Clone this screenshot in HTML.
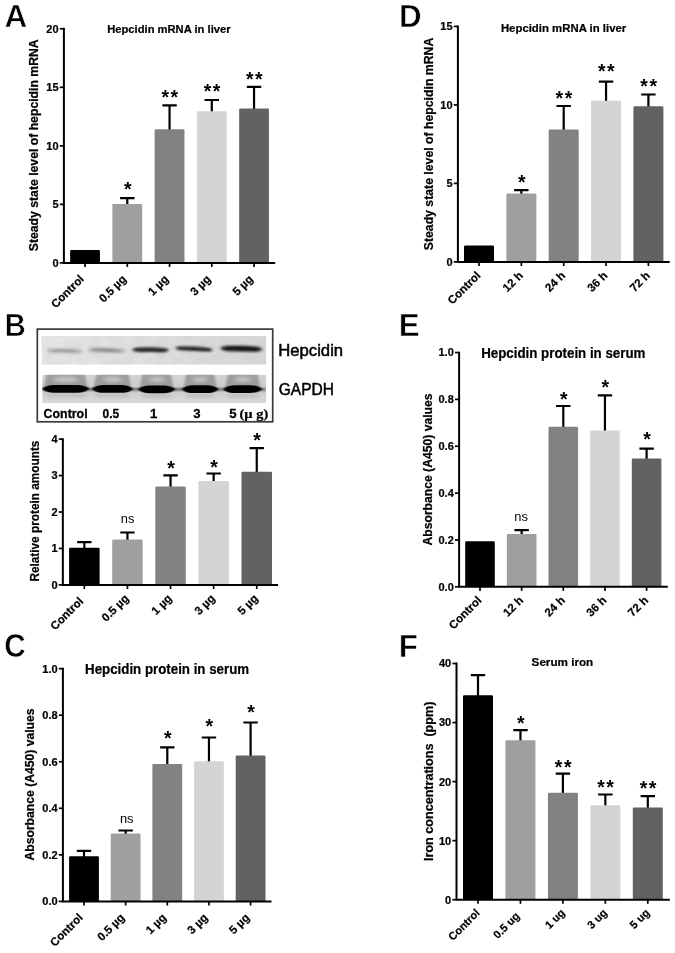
<!DOCTYPE html>
<html lang="en"><head><meta charset="utf-8"><title>Figure</title>
<style>html,body{margin:0;padding:0;background:#fff}svg{display:block}</style></head>
<body>
<svg width="675" height="953" viewBox="0 0 675 953" font-family="'Liberation Sans', sans-serif" fill="#000">
<defs>
<filter id="b1" x="-20%" y="-300%" width="140%" height="700%"><feGaussianBlur stdDeviation="1.8 1.2"/></filter>
<filter id="b4" x="-20%" y="-300%" width="140%" height="700%"><feGaussianBlur stdDeviation="2.2 1.6"/></filter>
<filter id="b2" x="-20%" y="-200%" width="140%" height="500%"><feGaussianBlur stdDeviation="1.3 0.9"/></filter>
<filter id="b5" x="-30%" y="-100%" width="160%" height="300%"><feGaussianBlur stdDeviation="1.3 1.2"/></filter>
<filter id="b6" x="-20%" y="-200%" width="140%" height="500%"><feGaussianBlur stdDeviation="0.9 0.7"/></filter>
<filter id="b3" x="-30%" y="-100%" width="160%" height="300%"><feGaussianBlur stdDeviation="2 1.6"/></filter>
<filter id="nz" x="0" y="0" width="100%" height="100%"><feTurbulence type="fractalNoise" baseFrequency="0.09 0.12" numOctaves="2" seed="7" result="t"/><feColorMatrix in="t" type="matrix" values="0 0 0 0 0.5  0 0 0 0 0.5  0 0 0 0 0.5  0.9 0 0 0 -0.33"/></filter>
<linearGradient id="g1" x1="0" y1="0" x2="1" y2="0"><stop offset="0" stop-color="#e6e6e6"/><stop offset="0.45" stop-color="#dfdfdf"/><stop offset="1" stop-color="#d6d6d6"/></linearGradient>
<linearGradient id="g2" x1="0" y1="0" x2="0" y2="1"><stop offset="0" stop-color="#d2d2d2"/><stop offset="0.55" stop-color="#cdcdcd"/><stop offset="1" stop-color="#dadada"/></linearGradient>
<clipPath id="c1"><rect x="41.3" y="336" width="224.7" height="28.7"/></clipPath>
<clipPath id="c2"><rect x="42.2" y="374.8" width="223.8" height="28.2"/></clipPath>
</defs>
<rect width="675" height="953" fill="#fff"/>
<rect x="70.15" y="249.9" width="29.8" height="13.00" rx="1.2" fill="#000000"/>
<path d="M127.30 205V198.1M120.10 198.1H134.50" stroke="#000" stroke-width="2.2" fill="none"/>
<rect x="112.40" y="204" width="29.8" height="58.90" rx="1.2" fill="#9f9f9f"/>
<path d="M169.55 130.3V105.3M162.35 105.3H176.75" stroke="#000" stroke-width="2.2" fill="none"/>
<rect x="154.65" y="129.3" width="29.8" height="133.60" rx="1.2" fill="#828282"/>
<path d="M211.80 112.2V100M204.60 100H219.00" stroke="#000" stroke-width="2.2" fill="none"/>
<rect x="196.90" y="111.2" width="29.8" height="151.70" rx="1.2" fill="#d4d4d4"/>
<path d="M254.05 109.5V86.9M246.85 86.9H261.25" stroke="#000" stroke-width="2.2" fill="none"/>
<rect x="239.15" y="108.5" width="29.8" height="154.40" rx="1.2" fill="#626262"/>
<path d="M63.9 27.8V262.9H275.2" stroke="#000" stroke-width="2.0" fill="none" stroke-linejoin="miter"/>
<path d="M59.80 262.9H63.9" stroke="#000" stroke-width="1.7"/>
<text x="58.6" y="266.8" font-size="11" text-anchor="end" font-weight="bold" stroke="#000" stroke-width="0.22">0</text>
<path d="M59.80 204.37H63.9" stroke="#000" stroke-width="1.7"/>
<text x="58.6" y="208.27" font-size="11" text-anchor="end" font-weight="bold" stroke="#000" stroke-width="0.22">5</text>
<path d="M59.80 145.84H63.9" stroke="#000" stroke-width="1.7"/>
<text x="58.6" y="149.74" font-size="11" text-anchor="end" font-weight="bold" stroke="#000" stroke-width="0.22">10</text>
<path d="M59.80 87.31H63.9" stroke="#000" stroke-width="1.7"/>
<text x="58.6" y="91.21" font-size="11" text-anchor="end" font-weight="bold" stroke="#000" stroke-width="0.22">15</text>
<path d="M59.80 28.78H63.9" stroke="#000" stroke-width="1.7"/>
<text x="58.6" y="32.68" font-size="11" text-anchor="end" font-weight="bold" stroke="#000" stroke-width="0.22">20</text>
<path d="M85.05 262.9V267.00" stroke="#000" stroke-width="1.7"/>
<text x="84.65" y="279.8" font-size="11.5" text-anchor="end" font-weight="bold" transform="rotate(-45 84.65 279.8)" stroke="#000" stroke-width="0.22">Control</text>
<path d="M127.30 262.9V267.00" stroke="#000" stroke-width="1.7"/>
<text x="126.9" y="279.8" font-size="11.5" text-anchor="end" font-weight="bold" transform="rotate(-45 126.9 279.8)" stroke="#000" stroke-width="0.22">0.5 µg</text>
<path d="M169.55 262.9V267.00" stroke="#000" stroke-width="1.7"/>
<text x="169.15" y="279.8" font-size="11.5" text-anchor="end" font-weight="bold" transform="rotate(-45 169.15 279.8)" stroke="#000" stroke-width="0.22">1 µg</text>
<path d="M211.80 262.9V267.00" stroke="#000" stroke-width="1.7"/>
<text x="211.4" y="279.8" font-size="11.5" text-anchor="end" font-weight="bold" transform="rotate(-45 211.4 279.8)" stroke="#000" stroke-width="0.22">3 µg</text>
<path d="M254.05 262.9V267.00" stroke="#000" stroke-width="1.7"/>
<text x="253.65" y="279.8" font-size="11.5" text-anchor="end" font-weight="bold" transform="rotate(-45 253.65 279.8)" stroke="#000" stroke-width="0.22">5 µg</text>
<text x="38.0" y="145.3" font-size="12.2" text-anchor="middle" font-weight="bold" textLength="211.8" lengthAdjust="spacingAndGlyphs" transform="rotate(-90 38.0 145.3)" style="white-space:pre" stroke="#000" stroke-width="0.22">Steady state level of hepcidin mRNA</text>
<text x="168.9" y="32.8" font-size="11.3" text-anchor="middle" font-weight="bold" textLength="123.4" lengthAdjust="spacingAndGlyphs" stroke="#000" stroke-width="0.22">Hepcidin mRNA in liver</text>
<text x="127.7" y="196.3" font-size="19.5" text-anchor="middle" font-weight="bold">*</text>
<text x="170.55" y="103.8" font-size="19.5" text-anchor="middle" font-weight="bold" letter-spacing="1.5">**</text>
<text x="212.8" y="98.4" font-size="19.5" text-anchor="middle" font-weight="bold" letter-spacing="1.5">**</text>
<text x="255.05" y="85.7" font-size="19.5" text-anchor="middle" font-weight="bold" letter-spacing="1.5">**</text>
<text x="4.4" y="26.8" font-size="31.5" text-anchor="start" font-weight="bold" stroke="#fff" stroke-width="0.6">A</text>
<path d="M84.35 548.8V542.2M77.15 542.2H91.55" stroke="#000" stroke-width="2.2" fill="none"/>
<rect x="69.10" y="547.8" width="30.5" height="37.10" rx="1.2" fill="#000000"/>
<path d="M127.45 540.5V532.5M120.25 532.5H134.65" stroke="#000" stroke-width="2.2" fill="none"/>
<rect x="112.20" y="539.5" width="30.5" height="45.40" rx="1.2" fill="#9f9f9f"/>
<path d="M170.55 487.6V475.4M163.35 475.4H177.75" stroke="#000" stroke-width="2.2" fill="none"/>
<rect x="155.30" y="486.6" width="30.5" height="98.30" rx="1.2" fill="#828282"/>
<path d="M213.65 482V473.5M206.45 473.5H220.85" stroke="#000" stroke-width="2.2" fill="none"/>
<rect x="198.40" y="481" width="30.5" height="103.90" rx="1.2" fill="#d4d4d4"/>
<path d="M256.75 472.7V448.2M249.55 448.2H263.95" stroke="#000" stroke-width="2.2" fill="none"/>
<rect x="241.50" y="471.7" width="30.5" height="113.20" rx="1.2" fill="#626262"/>
<path d="M62.85 438.20000000000005V584.9H278.1" stroke="#000" stroke-width="2.0" fill="none" stroke-linejoin="miter"/>
<path d="M58.75 584.9H62.85" stroke="#000" stroke-width="1.7"/>
<text x="57.55" y="588.8" font-size="11" text-anchor="end" font-weight="bold" stroke="#000" stroke-width="0.22">0</text>
<path d="M58.75 548.45H62.85" stroke="#000" stroke-width="1.7"/>
<text x="57.55" y="552.35" font-size="11" text-anchor="end" font-weight="bold" stroke="#000" stroke-width="0.22">1</text>
<path d="M58.75 512.0H62.85" stroke="#000" stroke-width="1.7"/>
<text x="57.55" y="515.9" font-size="11" text-anchor="end" font-weight="bold" stroke="#000" stroke-width="0.22">2</text>
<path d="M58.75 475.55H62.85" stroke="#000" stroke-width="1.7"/>
<text x="57.55" y="479.45" font-size="11" text-anchor="end" font-weight="bold" stroke="#000" stroke-width="0.22">3</text>
<path d="M58.75 439.1H62.85" stroke="#000" stroke-width="1.7"/>
<text x="57.55" y="443.0" font-size="11" text-anchor="end" font-weight="bold" stroke="#000" stroke-width="0.22">4</text>
<path d="M84.35 584.9V589.00" stroke="#000" stroke-width="1.7"/>
<text x="83.95" y="601.9" font-size="11.5" text-anchor="end" font-weight="bold" transform="rotate(-45 83.95 601.9)" stroke="#000" stroke-width="0.22">Control</text>
<path d="M127.45 584.9V589.00" stroke="#000" stroke-width="1.7"/>
<text x="129.45" y="599.1" font-size="11.5" text-anchor="end" font-weight="bold" transform="rotate(-45 129.45 599.1)" stroke="#000" stroke-width="0.22">0.5 µg</text>
<path d="M170.55 584.9V589.00" stroke="#000" stroke-width="1.7"/>
<text x="172.55" y="599.1" font-size="11.5" text-anchor="end" font-weight="bold" transform="rotate(-45 172.55 599.1)" stroke="#000" stroke-width="0.22">1 µg</text>
<path d="M213.65 584.9V589.00" stroke="#000" stroke-width="1.7"/>
<text x="215.65" y="599.1" font-size="11.5" text-anchor="end" font-weight="bold" transform="rotate(-45 215.65 599.1)" stroke="#000" stroke-width="0.22">3 µg</text>
<path d="M256.75 584.9V589.00" stroke="#000" stroke-width="1.7"/>
<text x="258.75" y="599.1" font-size="11.5" text-anchor="end" font-weight="bold" transform="rotate(-45 258.75 599.1)" stroke="#000" stroke-width="0.22">5 µg</text>
<text x="38.6" y="511.1" font-size="12" text-anchor="middle" font-weight="bold" textLength="141" lengthAdjust="spacingAndGlyphs" transform="rotate(-90 38.6 511.1)" style="white-space:pre" stroke="#000" stroke-width="0.22">Relative protein amounts</text>
<text x="127.65" y="523.1" font-size="12.2" text-anchor="middle" font-weight="normal" textLength="13.6" lengthAdjust="spacingAndGlyphs">ns</text>
<text x="170.95000000000002" y="475.4" font-size="19.5" text-anchor="middle" font-weight="bold">*</text>
<text x="214.05" y="473.5" font-size="19.5" text-anchor="middle" font-weight="bold">*</text>
<text x="257.15" y="447.4" font-size="19.5" text-anchor="middle" font-weight="bold">*</text>
<text x="4.8" y="336.1" font-size="31.4" text-anchor="start" font-weight="bold" textLength="21" lengthAdjust="spacingAndGlyphs" stroke="#fff" stroke-width="0.6">B</text>
<path d="M84.00 857.3V850.8M76.80 850.8H91.20" stroke="#000" stroke-width="2.2" fill="none"/>
<rect x="69.10" y="856.3" width="29.8" height="45.10" rx="1.2" fill="#000000"/>
<path d="M125.65 834.5V830.5M118.45 830.5H132.85" stroke="#000" stroke-width="2.2" fill="none"/>
<rect x="110.75" y="833.5" width="29.8" height="67.90" rx="1.2" fill="#9f9f9f"/>
<path d="M167.30 765.1V747.3M160.10 747.3H174.50" stroke="#000" stroke-width="2.2" fill="none"/>
<rect x="152.40" y="764.1" width="29.8" height="137.30" rx="1.2" fill="#828282"/>
<path d="M208.95 762.2V737.5M201.75 737.5H216.15" stroke="#000" stroke-width="2.2" fill="none"/>
<rect x="194.05" y="761.2" width="29.8" height="140.20" rx="1.2" fill="#d4d4d4"/>
<path d="M250.60 756.6V722.5M243.40 722.5H257.80" stroke="#000" stroke-width="2.2" fill="none"/>
<rect x="235.70" y="755.6" width="29.8" height="145.80" rx="1.2" fill="#626262"/>
<path d="M62.9 667.8000000000001V901.4H271.5" stroke="#000" stroke-width="2.0" fill="none" stroke-linejoin="miter"/>
<path d="M58.80 901.4H62.9" stroke="#000" stroke-width="1.7"/>
<text x="57.6" y="905.3" font-size="11" text-anchor="end" font-weight="bold" stroke="#000" stroke-width="0.22">0.0</text>
<path d="M58.80 854.85H62.9" stroke="#000" stroke-width="1.7"/>
<text x="57.6" y="858.75" font-size="11" text-anchor="end" font-weight="bold" stroke="#000" stroke-width="0.22">0.2</text>
<path d="M58.80 808.3H62.9" stroke="#000" stroke-width="1.7"/>
<text x="57.6" y="812.2" font-size="11" text-anchor="end" font-weight="bold" stroke="#000" stroke-width="0.22">0.4</text>
<path d="M58.80 761.75H62.9" stroke="#000" stroke-width="1.7"/>
<text x="57.6" y="765.65" font-size="11" text-anchor="end" font-weight="bold" stroke="#000" stroke-width="0.22">0.6</text>
<path d="M58.80 715.2H62.9" stroke="#000" stroke-width="1.7"/>
<text x="57.6" y="719.1" font-size="11" text-anchor="end" font-weight="bold" stroke="#000" stroke-width="0.22">0.8</text>
<path d="M58.80 668.65H62.9" stroke="#000" stroke-width="1.7"/>
<text x="57.6" y="672.55" font-size="11" text-anchor="end" font-weight="bold" stroke="#000" stroke-width="0.22">1.0</text>
<path d="M84.00 901.4V905.50" stroke="#000" stroke-width="1.7"/>
<text x="83.6" y="918.3" font-size="11.5" text-anchor="end" font-weight="bold" transform="rotate(-45 83.6 918.3)" stroke="#000" stroke-width="0.22">Control</text>
<path d="M125.65 901.4V905.50" stroke="#000" stroke-width="1.7"/>
<text x="125.25" y="918.3" font-size="11.5" text-anchor="end" font-weight="bold" transform="rotate(-45 125.25 918.3)" stroke="#000" stroke-width="0.22">0.5 µg</text>
<path d="M167.30 901.4V905.50" stroke="#000" stroke-width="1.7"/>
<text x="166.9" y="918.3" font-size="11.5" text-anchor="end" font-weight="bold" transform="rotate(-45 166.9 918.3)" stroke="#000" stroke-width="0.22">1 µg</text>
<path d="M208.95 901.4V905.50" stroke="#000" stroke-width="1.7"/>
<text x="208.55" y="918.3" font-size="11.5" text-anchor="end" font-weight="bold" transform="rotate(-45 208.55 918.3)" stroke="#000" stroke-width="0.22">3 µg</text>
<path d="M250.60 901.4V905.50" stroke="#000" stroke-width="1.7"/>
<text x="250.2" y="918.3" font-size="11.5" text-anchor="end" font-weight="bold" transform="rotate(-45 250.2 918.3)" stroke="#000" stroke-width="0.22">5 µg</text>
<text x="33.9" y="784.5" font-size="12" text-anchor="middle" font-weight="bold" textLength="152" lengthAdjust="spacingAndGlyphs" transform="rotate(-90 33.9 784.5)" style="white-space:pre" stroke="#000" stroke-width="0.22">Absorbance (A450) values</text>
<text x="167.1" y="673.6" font-size="13.8" text-anchor="middle" font-weight="bold" textLength="164" lengthAdjust="spacingAndGlyphs" stroke="#000" stroke-width="0.22">Hepcidin protein in serum</text>
<text x="126.75" y="822.5" font-size="12.2" text-anchor="middle" font-weight="normal" textLength="13.6" lengthAdjust="spacingAndGlyphs">ns</text>
<text x="167.70000000000002" y="745.2" font-size="19.5" text-anchor="middle" font-weight="bold">*</text>
<text x="209.35" y="733.2" font-size="19.5" text-anchor="middle" font-weight="bold">*</text>
<text x="251.0" y="718.8" font-size="19.5" text-anchor="middle" font-weight="bold">*</text>
<text x="4.2" y="657.0" font-size="33.8" text-anchor="start" font-weight="bold" textLength="21.5" lengthAdjust="spacingAndGlyphs" stroke="#fff" stroke-width="0.6">C</text>
<rect x="464.00" y="245.6" width="30" height="16.30" rx="1.2" fill="#000000"/>
<path d="M521.35 194.5V190.1M514.15 190.1H528.55" stroke="#000" stroke-width="2.2" fill="none"/>
<rect x="506.35" y="193.5" width="30" height="68.40" rx="1.2" fill="#9f9f9f"/>
<path d="M563.70 130.5V106M556.50 106H570.90" stroke="#000" stroke-width="2.2" fill="none"/>
<rect x="548.70" y="129.5" width="30" height="132.40" rx="1.2" fill="#828282"/>
<path d="M606.05 101.7V81.7M598.85 81.7H613.25" stroke="#000" stroke-width="2.2" fill="none"/>
<rect x="591.05" y="100.7" width="30" height="161.20" rx="1.2" fill="#d4d4d4"/>
<path d="M648.40 107.3V94.5M641.20 94.5H655.60" stroke="#000" stroke-width="2.2" fill="none"/>
<rect x="633.40" y="106.3" width="30" height="155.60" rx="1.2" fill="#626262"/>
<path d="M457.9 25.5V261.9H669.7" stroke="#000" stroke-width="2.0" fill="none" stroke-linejoin="miter"/>
<path d="M453.80 261.9H457.9" stroke="#000" stroke-width="1.7"/>
<text x="452.6" y="265.8" font-size="11" text-anchor="end" font-weight="bold" stroke="#000" stroke-width="0.22">0</text>
<path d="M453.80 183.4H457.9" stroke="#000" stroke-width="1.7"/>
<text x="452.6" y="187.3" font-size="11" text-anchor="end" font-weight="bold" stroke="#000" stroke-width="0.22">5</text>
<path d="M453.80 104.9H457.9" stroke="#000" stroke-width="1.7"/>
<text x="452.6" y="108.8" font-size="11" text-anchor="end" font-weight="bold" stroke="#000" stroke-width="0.22">10</text>
<path d="M453.80 26.4H457.9" stroke="#000" stroke-width="1.7"/>
<text x="452.6" y="30.3" font-size="11" text-anchor="end" font-weight="bold" stroke="#000" stroke-width="0.22">15</text>
<path d="M479.00 261.9V266.00" stroke="#000" stroke-width="1.7"/>
<text x="481.3" y="276.2" font-size="11.5" text-anchor="end" font-weight="bold" transform="rotate(-45 481.3 276.2)" stroke="#000" stroke-width="0.22">Control</text>
<path d="M521.35 261.9V266.00" stroke="#000" stroke-width="1.7"/>
<text x="523.65" y="276.2" font-size="11.5" text-anchor="end" font-weight="bold" transform="rotate(-45 523.65 276.2)" stroke="#000" stroke-width="0.22">12 h</text>
<path d="M563.70 261.9V266.00" stroke="#000" stroke-width="1.7"/>
<text x="566.0" y="276.2" font-size="11.5" text-anchor="end" font-weight="bold" transform="rotate(-45 566.0 276.2)" stroke="#000" stroke-width="0.22">24 h</text>
<path d="M606.05 261.9V266.00" stroke="#000" stroke-width="1.7"/>
<text x="608.35" y="276.2" font-size="11.5" text-anchor="end" font-weight="bold" transform="rotate(-45 608.35 276.2)" stroke="#000" stroke-width="0.22">36 h</text>
<path d="M648.40 261.9V266.00" stroke="#000" stroke-width="1.7"/>
<text x="650.7" y="276.2" font-size="11.5" text-anchor="end" font-weight="bold" transform="rotate(-45 650.7 276.2)" stroke="#000" stroke-width="0.22">72 h</text>
<text x="433" y="144" font-size="12.2" text-anchor="middle" font-weight="bold" textLength="212.5" lengthAdjust="spacingAndGlyphs" transform="rotate(-90 433 144)" style="white-space:pre" stroke="#000" stroke-width="0.22">Steady state level of hepcidin mRNA</text>
<text x="563.6" y="31.8" font-size="11.5" text-anchor="middle" font-weight="bold" textLength="125.4" lengthAdjust="spacingAndGlyphs" stroke="#000" stroke-width="0.22">Hepcidin mRNA in liver</text>
<text x="521.75" y="188.6" font-size="19.5" text-anchor="middle" font-weight="bold">*</text>
<text x="564.7" y="104.5" font-size="19.5" text-anchor="middle" font-weight="bold" letter-spacing="1.5">**</text>
<text x="607.05" y="78.4" font-size="19.5" text-anchor="middle" font-weight="bold" letter-spacing="1.5">**</text>
<text x="649.4" y="93.1" font-size="19.5" text-anchor="middle" font-weight="bold" letter-spacing="1.5">**</text>
<text x="399.1" y="26.7" font-size="31.4" text-anchor="start" font-weight="bold" stroke="#fff" stroke-width="0.6">D</text>
<rect x="465.20" y="541.2" width="29.6" height="45.60" rx="1.2" fill="#000000"/>
<path d="M521.65 535V530.2M514.45 530.2H528.85" stroke="#000" stroke-width="2.2" fill="none"/>
<rect x="506.85" y="534" width="29.6" height="52.80" rx="1.2" fill="#9f9f9f"/>
<path d="M563.30 427.8V406M556.10 406H570.50" stroke="#000" stroke-width="2.2" fill="none"/>
<rect x="548.50" y="426.8" width="29.6" height="160.00" rx="1.2" fill="#828282"/>
<path d="M604.95 431.5V395.3M597.75 395.3H612.15" stroke="#000" stroke-width="2.2" fill="none"/>
<rect x="590.15" y="430.5" width="29.6" height="156.30" rx="1.2" fill="#d4d4d4"/>
<path d="M646.60 459.5V448.7M639.40 448.7H653.80" stroke="#000" stroke-width="2.2" fill="none"/>
<rect x="631.80" y="458.5" width="29.6" height="128.30" rx="1.2" fill="#626262"/>
<path d="M459.1 351.65000000000003V586.8H667.8" stroke="#000" stroke-width="2.0" fill="none" stroke-linejoin="miter"/>
<path d="M455.00 586.8H459.1" stroke="#000" stroke-width="1.7"/>
<text x="453.8" y="590.7" font-size="11" text-anchor="end" font-weight="bold" stroke="#000" stroke-width="0.22">0.0</text>
<path d="M455.00 539.95H459.1" stroke="#000" stroke-width="1.7"/>
<text x="453.8" y="543.85" font-size="11" text-anchor="end" font-weight="bold" stroke="#000" stroke-width="0.22">0.2</text>
<path d="M455.00 493.1H459.1" stroke="#000" stroke-width="1.7"/>
<text x="453.8" y="497.0" font-size="11" text-anchor="end" font-weight="bold" stroke="#000" stroke-width="0.22">0.4</text>
<path d="M455.00 446.25H459.1" stroke="#000" stroke-width="1.7"/>
<text x="453.8" y="450.15" font-size="11" text-anchor="end" font-weight="bold" stroke="#000" stroke-width="0.22">0.6</text>
<path d="M455.00 399.4H459.1" stroke="#000" stroke-width="1.7"/>
<text x="453.8" y="403.3" font-size="11" text-anchor="end" font-weight="bold" stroke="#000" stroke-width="0.22">0.8</text>
<path d="M455.00 352.55H459.1" stroke="#000" stroke-width="1.7"/>
<text x="453.8" y="356.45" font-size="11" text-anchor="end" font-weight="bold" stroke="#000" stroke-width="0.22">1.0</text>
<path d="M480.00 586.8V590.90" stroke="#000" stroke-width="1.7"/>
<text x="482.3" y="601.0" font-size="11.5" text-anchor="end" font-weight="bold" transform="rotate(-45 482.3 601.0)" stroke="#000" stroke-width="0.22">Control</text>
<path d="M521.65 586.8V590.90" stroke="#000" stroke-width="1.7"/>
<text x="523.95" y="601.0" font-size="11.5" text-anchor="end" font-weight="bold" transform="rotate(-45 523.95 601.0)" stroke="#000" stroke-width="0.22">12 h</text>
<path d="M563.30 586.8V590.90" stroke="#000" stroke-width="1.7"/>
<text x="565.6" y="601.0" font-size="11.5" text-anchor="end" font-weight="bold" transform="rotate(-45 565.6 601.0)" stroke="#000" stroke-width="0.22">24 h</text>
<path d="M604.95 586.8V590.90" stroke="#000" stroke-width="1.7"/>
<text x="607.25" y="601.0" font-size="11.5" text-anchor="end" font-weight="bold" transform="rotate(-45 607.25 601.0)" stroke="#000" stroke-width="0.22">36 h</text>
<path d="M646.60 586.8V590.90" stroke="#000" stroke-width="1.7"/>
<text x="648.9" y="601.0" font-size="11.5" text-anchor="end" font-weight="bold" transform="rotate(-45 648.9 601.0)" stroke="#000" stroke-width="0.22">72 h</text>
<text x="432.4" y="469.5" font-size="12" text-anchor="middle" font-weight="bold" textLength="152" lengthAdjust="spacingAndGlyphs" transform="rotate(-90 432.4 469.5)" style="white-space:pre" stroke="#000" stroke-width="0.22">Absorbance (A450) values</text>
<text x="563.3" y="357.8" font-size="13.8" text-anchor="middle" font-weight="bold" textLength="164.3" lengthAdjust="spacingAndGlyphs" stroke="#000" stroke-width="0.22">Hepcidin protein in serum</text>
<text x="521.1500000000001" y="521.1" font-size="12.2" text-anchor="middle" font-weight="normal" textLength="13.6" lengthAdjust="spacingAndGlyphs">ns</text>
<text x="563.6999999999999" y="405.6" font-size="19.5" text-anchor="middle" font-weight="bold">*</text>
<text x="605.35" y="393.7" font-size="19.5" text-anchor="middle" font-weight="bold">*</text>
<text x="647.0" y="446.3" font-size="19.5" text-anchor="middle" font-weight="bold">*</text>
<text x="398.8" y="336.1" font-size="31.4" text-anchor="start" font-weight="bold" stroke="#fff" stroke-width="0.6">E</text>
<path d="M478.00 696.3V675.1M470.80 675.1H485.20" stroke="#000" stroke-width="2.2" fill="none"/>
<rect x="463.00" y="695.3" width="30" height="204.40" rx="1.2" fill="#000000"/>
<path d="M520.45 741.2V730.1M513.25 730.1H527.65" stroke="#000" stroke-width="2.2" fill="none"/>
<rect x="505.45" y="740.2" width="30" height="159.50" rx="1.2" fill="#9f9f9f"/>
<path d="M562.90 793.8V773.6M555.70 773.6H570.10" stroke="#000" stroke-width="2.2" fill="none"/>
<rect x="547.90" y="792.8" width="30" height="106.90" rx="1.2" fill="#828282"/>
<path d="M605.35 806.3V794.5M598.15 794.5H612.55" stroke="#000" stroke-width="2.2" fill="none"/>
<rect x="590.35" y="805.3" width="30" height="94.40" rx="1.2" fill="#d4d4d4"/>
<path d="M647.80 808.4V796.2M640.60 796.2H655.00" stroke="#000" stroke-width="2.2" fill="none"/>
<rect x="632.80" y="807.4" width="30" height="92.30" rx="1.2" fill="#626262"/>
<path d="M456.5 662.6V899.7H669.8" stroke="#000" stroke-width="2.0" fill="none" stroke-linejoin="miter"/>
<path d="M452.40 899.7H456.5" stroke="#000" stroke-width="1.7"/>
<text x="451.2" y="903.6" font-size="11" text-anchor="end" font-weight="bold" stroke="#000" stroke-width="0.22">0</text>
<path d="M452.40 840.65H456.5" stroke="#000" stroke-width="1.7"/>
<text x="451.2" y="844.55" font-size="11" text-anchor="end" font-weight="bold" stroke="#000" stroke-width="0.22">10</text>
<path d="M452.40 781.6H456.5" stroke="#000" stroke-width="1.7"/>
<text x="451.2" y="785.5" font-size="11" text-anchor="end" font-weight="bold" stroke="#000" stroke-width="0.22">20</text>
<path d="M452.40 722.55H456.5" stroke="#000" stroke-width="1.7"/>
<text x="451.2" y="726.45" font-size="11" text-anchor="end" font-weight="bold" stroke="#000" stroke-width="0.22">30</text>
<path d="M452.40 663.5H456.5" stroke="#000" stroke-width="1.7"/>
<text x="451.2" y="667.4" font-size="11" text-anchor="end" font-weight="bold" stroke="#000" stroke-width="0.22">40</text>
<path d="M478.00 899.7V903.80" stroke="#000" stroke-width="1.7"/>
<text x="480.5" y="913.6" font-size="11" text-anchor="end" font-weight="bold" transform="rotate(-45 480.5 913.6)" stroke="#000" stroke-width="0.22">Control</text>
<path d="M520.45 899.7V903.80" stroke="#000" stroke-width="1.7"/>
<text x="520.35" y="916.8" font-size="11" text-anchor="end" font-weight="bold" transform="rotate(-45 520.35 916.8)" stroke="#000" stroke-width="0.22">0.5 ug</text>
<path d="M562.90 899.7V903.80" stroke="#000" stroke-width="1.7"/>
<text x="565.4" y="913.6" font-size="11" text-anchor="end" font-weight="bold" transform="rotate(-45 565.4 913.6)" stroke="#000" stroke-width="0.22">1 ug</text>
<path d="M605.35 899.7V903.80" stroke="#000" stroke-width="1.7"/>
<text x="607.85" y="913.6" font-size="11" text-anchor="end" font-weight="bold" transform="rotate(-45 607.85 913.6)" stroke="#000" stroke-width="0.22">3 ug</text>
<path d="M647.80 899.7V903.80" stroke="#000" stroke-width="1.7"/>
<text x="650.3" y="913.6" font-size="11" text-anchor="end" font-weight="bold" transform="rotate(-45 650.3 913.6)" stroke="#000" stroke-width="0.22">5 ug</text>
<text x="433" y="781.3" font-size="12.6" text-anchor="middle" font-weight="bold" textLength="159.3" lengthAdjust="spacingAndGlyphs" transform="rotate(-90 433 781.3)" style="white-space:pre" stroke="#000" stroke-width="0.22">Iron concentrations  (ppm)</text>
<text x="562.4" y="666.4" font-size="11.3" text-anchor="middle" font-weight="bold" textLength="61.6" lengthAdjust="spacingAndGlyphs" stroke="#000" stroke-width="0.22">Serum iron</text>
<text x="520.85" y="730.2" font-size="19.5" text-anchor="middle" font-weight="bold">*</text>
<text x="563.9" y="773.7" font-size="19.5" text-anchor="middle" font-weight="bold" letter-spacing="1.5">**</text>
<text x="606.35" y="793.6" font-size="19.5" text-anchor="middle" font-weight="bold" letter-spacing="1.5">**</text>
<text x="648.8" y="795.3" font-size="19.5" text-anchor="middle" font-weight="bold" letter-spacing="1.5">**</text>
<text x="398.8" y="656.9" font-size="31.4" text-anchor="start" font-weight="bold" stroke="#fff" stroke-width="0.6">F</text>
<rect x="37.3" y="329.1" width="235.4" height="92.7" fill="#fff" stroke="#3a3a3a" stroke-width="1.7"/>
<g clip-path="url(#c1)">
<rect x="41.3" y="336" width="224.7" height="28.7" fill="url(#g1)"/>
<rect x="41.3" y="336" width="224.7" height="28.7" filter="url(#nz)" opacity="0.5"/>
<path d="M46.6 350.9Q49.6 349.30 56.6 349.30Q64.5 348.80 72.3 349.30Q79.3 349.30 82.3 350.9Q79.3 352.50 72.3 352.50Q64.5 352.10 56.6 352.50Q49.6 352.50 46.6 350.9Z" transform="rotate(1.02 64.5 350.9)" fill="#141414" opacity="0.4" filter="url(#b4)"/>
<path d="M88.3 350.3Q91.3 348.50 98.3 348.50Q106.7 348.00 115 348.50Q122 348.50 125 350.3Q122 352.10 115 352.10Q106.7 351.70 98.3 352.10Q91.3 352.10 88.3 350.3Z" transform="rotate(2.31 106.7 350.3)" fill="#141414" opacity="0.46" filter="url(#b4)"/>
<path d="M131.7 349.9Q134.7 347.60 141.7 347.60Q150.4 347.10 159.2 347.60Q166.2 347.60 169.2 349.9Q166.2 352.20 159.2 352.20Q150.4 351.80 141.7 352.20Q134.7 352.20 131.7 349.9Z" transform="rotate(0.97 150.4 349.9)" fill="#141414" opacity="0.9" filter="url(#b1)"/>
<path d="M175 348.9Q178 346.70 185 346.70Q194.1 346.20 203.2 346.70Q210.2 346.70 213.2 348.9Q210.2 351.10 203.2 351.10Q194.1 350.70 185 351.10Q178 351.10 175 348.9Z" transform="rotate(2.85 194.1 348.9)" fill="#141414" opacity="0.9" filter="url(#b1)"/>
<path d="M220.1 348.8Q223.1 346.00 230.1 346.00Q241.4 345.50 252.60000000000002 346.00Q259.6 346.00 262.6 348.8Q259.6 351.60 252.60000000000002 351.60Q241.4 351.20 230.1 351.60Q223.1 351.60 220.1 348.8Z" transform="rotate(1.41 241.4 348.8)" fill="#141414" opacity="1.0" filter="url(#b1)"/>
</g>
<g clip-path="url(#c2)">
<rect x="42.2" y="374.8" width="223.8" height="28.2" fill="url(#g2)"/>
<path d="M47.1 372L84.4 372L87.9 388.8L43.6 388.8Z" fill="#8a8a8a" opacity="0.72" filter="url(#b5)"/>
<ellipse cx="65.8" cy="379.5" rx="12.7" ry="3" fill="#d8d8d8" opacity="0.6" filter="url(#b3)"/>
<rect x="46.1" y="393.3" width="39.300000000000004" height="4" fill="#a8a8a8" opacity="0.45" filter="url(#b3)"/>
<path d="M96.9 372L128 372L131.5 388.9L93.4 388.9Z" fill="#8a8a8a" opacity="0.72" filter="url(#b5)"/>
<ellipse cx="112.5" cy="379.5" rx="9.5" ry="3" fill="#d8d8d8" opacity="0.6" filter="url(#b3)"/>
<rect x="95.9" y="393.4" width="33.099999999999994" height="4" fill="#a8a8a8" opacity="0.45" filter="url(#b3)"/>
<path d="M142.9 372L170.4 372L173.9 389.3L139.4 389.3Z" fill="#8a8a8a" opacity="0.72" filter="url(#b5)"/>
<ellipse cx="156.7" cy="379.5" rx="7.8" ry="3" fill="#d8d8d8" opacity="0.6" filter="url(#b3)"/>
<rect x="141.9" y="393.8" width="29.5" height="4" fill="#a8a8a8" opacity="0.45" filter="url(#b3)"/>
<path d="M186.7 372L213.6 372L217.1 389.2L183.2 389.2Z" fill="#8a8a8a" opacity="0.72" filter="url(#b5)"/>
<ellipse cx="200.1" cy="379.5" rx="7.5" ry="3" fill="#d8d8d8" opacity="0.6" filter="url(#b3)"/>
<rect x="185.7" y="393.7" width="28.900000000000006" height="4" fill="#a8a8a8" opacity="0.45" filter="url(#b3)"/>
<path d="M228.2 372L257.1 372L260.6 389.2L224.7 389.2Z" fill="#8a8a8a" opacity="0.72" filter="url(#b5)"/>
<ellipse cx="242.7" cy="379.5" rx="8.5" ry="3" fill="#d8d8d8" opacity="0.6" filter="url(#b3)"/>
<rect x="227.2" y="393.7" width="30.900000000000034" height="4" fill="#a8a8a8" opacity="0.45" filter="url(#b3)"/>
<rect x="42.2" y="388.2" width="223.8" height="2.2" fill="#333" opacity="0.8" filter="url(#b2)"/>
<path d="M42.1 388.8Q46.1 384.90 54.1 384.90L77.4 384.90Q85.4 384.90 89.4 388.8Q85.4 392.70 77.4 392.70L54.1 392.70Q46.1 392.70 42.1 388.8Z" fill="#000" filter="url(#b6)"/>
<rect x="49.1" y="386.10" width="33.30" height="5.4" rx="2.7" fill="#000"/>
<path d="M91.9 388.9Q95.9 385.00 103.9 385.00L121 385.00Q129 385.00 133 388.9Q129 392.80 121 392.80L103.9 392.80Q95.9 392.80 91.9 388.9Z" fill="#000" filter="url(#b6)"/>
<rect x="98.9" y="386.20" width="27.10" height="5.4" rx="2.7" fill="#000"/>
<path d="M137.9 389.3Q141.9 385.40 149.9 385.40L163.4 385.40Q171.4 385.40 175.4 389.3Q171.4 393.20 163.4 393.20L149.9 393.20Q141.9 393.20 137.9 389.3Z" fill="#000" filter="url(#b6)"/>
<rect x="144.9" y="386.60" width="23.50" height="5.4" rx="2.7" fill="#000"/>
<path d="M181.7 389.2Q185.7 385.30 193.7 385.30L206.6 385.30Q214.6 385.30 218.6 389.2Q214.6 393.10 206.6 393.10L193.7 393.10Q185.7 393.10 181.7 389.2Z" fill="#000" filter="url(#b6)"/>
<rect x="188.7" y="386.50" width="22.90" height="5.4" rx="2.7" fill="#000"/>
<path d="M223.2 389.2Q227.2 385.30 235.2 385.30L250.10000000000002 385.30Q258.1 385.30 262.1 389.2Q258.1 393.10 250.10000000000002 393.10L235.2 393.10Q227.2 393.10 223.2 389.2Z" fill="#000" filter="url(#b6)"/>
<rect x="230.2" y="386.50" width="24.90" height="5.4" rx="2.7" fill="#000"/>
</g>
<text x="43.6" y="417.6" font-size="13.1" text-anchor="start" font-weight="bold" textLength="44" lengthAdjust="spacingAndGlyphs" stroke="#000" stroke-width="0.3">Control</text>
<text x="102.6" y="417.6" font-size="13.1" text-anchor="start" font-weight="bold" textLength="16.6" lengthAdjust="spacingAndGlyphs" stroke="#000" stroke-width="0.3">0.5</text>
<text x="150.0" y="417.6" font-size="13.1" text-anchor="start" font-weight="bold" stroke="#000" stroke-width="0.3">1</text>
<text x="193.2" y="417.6" font-size="13.1" text-anchor="start" font-weight="bold" stroke="#000" stroke-width="0.3">3</text>
<text x="229.2" y="417.6" font-size="13.1" text-anchor="start" font-weight="bold" stroke="#000" stroke-width="0.3">5</text>
<text x="239.6" y="417.6" font-size="11.5" text-anchor="start" font-weight="bold" textLength="28.6" lengthAdjust="spacingAndGlyphs" font-family="'Liberation Serif', serif" stroke="#000" stroke-width="0.22">(µ g)</text>
<text x="278.3" y="355.9" font-size="16.3" text-anchor="start" font-weight="normal" textLength="64.8" lengthAdjust="spacingAndGlyphs" stroke="#000" stroke-width="0.5">Hepcidin</text>
<text x="278.7" y="394.8" font-size="15.9" text-anchor="start" font-weight="normal" textLength="55.3" lengthAdjust="spacingAndGlyphs" stroke="#000" stroke-width="0.5">GAPDH</text>
</svg>
</body></html>
